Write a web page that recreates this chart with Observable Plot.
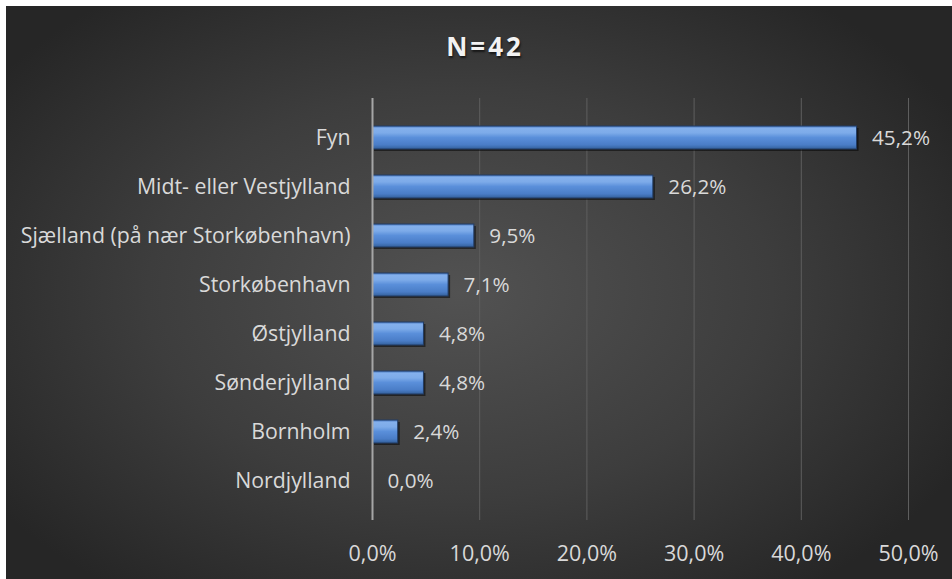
<!DOCTYPE html>
<html>
<head>
<meta charset="utf-8">
<script src="https://cdn.jsdelivr.net/npm/d3@7"></script>
<script src="https://cdn.jsdelivr.net/npm/@observablehq/plot@0.6"></script>
<style>
  html, body { margin: 0; padding: 0; background: #fff; }
  #wrap { position: relative; width: 952px; height: 579px; overflow: hidden; background: #fff; }
  #bg { position: absolute; left: 6px; top: 6px; width: 946px; height: 573px;
        background: radial-gradient(ellipse 60% 65% at 48% 50%, #525252 0%, #3d3d3d 55%, #262626 100%); }
  #title { position: absolute; left: 12px; width: 946px; top: 28px; text-align: center;
           font-family: "Open Sans", sans-serif; font-weight: bold; font-size: 26px; line-height: 36px;
           letter-spacing: 3px; color: #f2f2f2; text-shadow: 1px 2px 2px rgba(0,0,0,0.6); }
  #chart { position: absolute; left: 0; top: 0; }
</style>
</head>
<body>
<div id="wrap">
  <div id="bg"></div>
  <div id="title">N=42</div>
  <div id="chart"></div>
</div>
<script>
const categories = ["Fyn", "Midt- eller Vestjylland", "Sjælland (på nær Storkøbenhavn)", "Storkøbenhavn", "Østjylland", "Sønderjylland", "Bornholm", "Nordjylland"];
const values = [45.2, 26.2, 9.5, 7.1, 4.8, 4.8, 2.4, 0.0];
const xTicks = [0, 10, 20, 30, 40, 50];

const data = categories.map((c, i) => ({category: c, value: values[i]}));
const fmt = d => d.toFixed(1).replace(".", ",") + "%";

const plot = Plot.plot({
  width: 952,
  height: 579,
  marginTop: 98,
  marginBottom: 59,
  marginLeft: 372,
  marginRight: 44,
  style: {background: "transparent", fontFamily: "Open Sans, sans-serif", fontSize: "21px", color: "#d9d9d9", overflow: "visible"},
  x: {domain: [0, 50], ticks: xTicks, tickFormat: fmt, label: null},
  y: {domain: categories, padding: 0.54, label: null},
  marks: [
    Plot.ruleX(xTicks.filter(t => t > 0), {stroke: "#5e5e5e", strokeWidth: 1}),
    Plot.axisX({ticks: xTicks, tickFormat: fmt, tickSize: 0, tickPadding: 25, fill: "#d9d9d9", fontSize: 21.5}),
    Plot.axisY({tickSize: 0, tickPadding: 22, fill: "#d9d9d9", fontSize: 21.3}),
    Plot.barX(data, {y: "category", x: "value", fill: "#000", fillOpacity: 0.5, dx: 2, dy: 2}),
    Plot.barX(data, {y: "category", x: "value", fill: "url(#barGrad)", stroke: "#223c64", strokeWidth: 1}),
    Plot.ruleX([0], {stroke: "#a6a6a6", strokeWidth: 2}),
    Plot.text(data, {y: "category", x: "value", text: d => fmt(d.value), textAnchor: "start", dx: 15, fill: "#d9d9d9", fontSize: 20.7})
  ]
});

const ns = "http://www.w3.org/2000/svg";
const defs = document.createElementNS(ns, "defs");
defs.innerHTML = `
  <linearGradient id="barGrad" x1="0" y1="0" x2="0" y2="1">
    <stop offset="0" stop-color="#4677c0"/>
    <stop offset="0.1" stop-color="#84b0ec"/>
    <stop offset="0.3" stop-color="#7dabe9"/>
    <stop offset="0.5" stop-color="#5a8fda"/>
    <stop offset="0.82" stop-color="#4a7dc7"/>
    <stop offset="1" stop-color="#33609b"/>
  </linearGradient>`;
plot.insertBefore(defs, plot.firstChild);
document.getElementById("chart").appendChild(plot);
</script>
</body>
</html>
